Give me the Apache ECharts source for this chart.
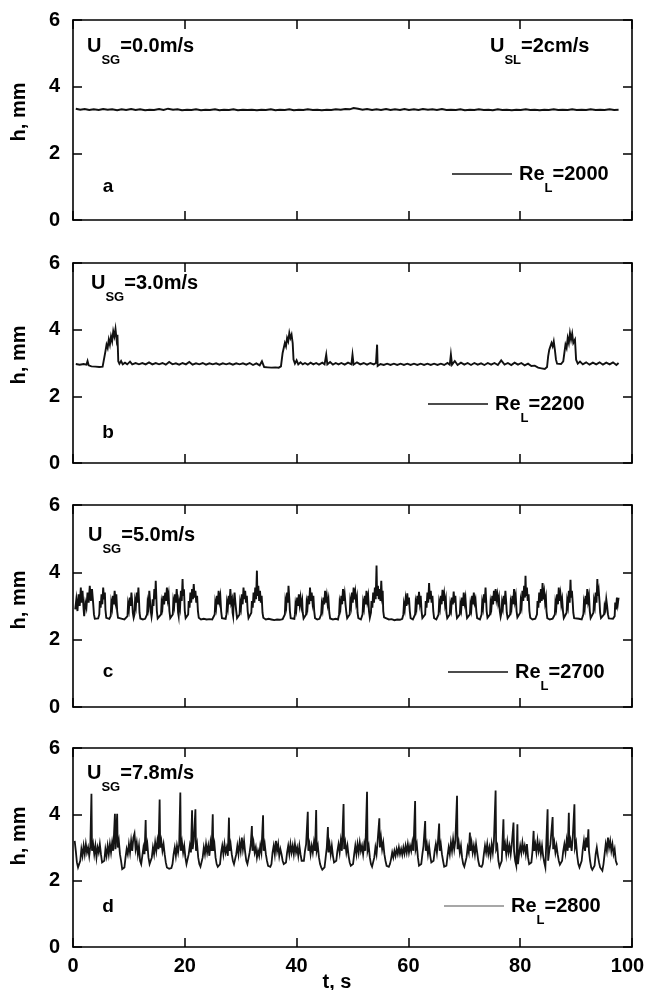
<!DOCTYPE html>
<html>
<head>
<meta charset="utf-8">
<script src="https://cdn.jsdelivr.net/npm/echarts@6/dist/echarts.min.js"></script>
<style>
html,body{margin:0;padding:0;background:#fff;}
#chart{width:645px;height:990px;}
</style>
</head>
<body>
<div id="chart"></div>
<script>
// ---------- data ----------
const xTicks = [0, 20, 40, 60, 80, 100];
const yTicks = [0, 2, 4, 6];
const panelLetters = ['a', 'b', 'c', 'd'];
const usgLabels = ['0.0m/s', '3.0m/s', '5.0m/s', '7.8m/s'];
const uslLabel = '2cm/s';
const reynolds = [2000, 2200, 2700, 2800];

const seriesA = [[0.5,3.34],[1.3,3.31],[2.1,3.33],[2.9,3.30],[3.7,3.32],[4.6,3.30],[5.4,3.33],[6.2,3.31],[7.0,3.32],[7.9,3.29],[8.7,3.32],[9.5,3.30],[10.4,3.33],[11.2,3.30],[12.0,3.32],[12.9,3.29],[13.7,3.31],[14.5,3.30],[15.4,3.33],[16.2,3.30],[17.0,3.34],[17.9,3.31],[18.7,3.32],[19.5,3.29],[20.4,3.31],[21.2,3.30],[22.0,3.32],[22.9,3.29],[23.7,3.31],[24.5,3.30],[25.4,3.32],[26.2,3.29],[27.0,3.31],[27.9,3.30],[28.7,3.32],[29.5,3.29],[30.4,3.31],[31.2,3.30],[32.0,3.31],[32.9,3.29],[33.7,3.31],[34.5,3.30],[35.4,3.32],[36.2,3.29],[37.0,3.31],[37.9,3.30],[38.7,3.32],[39.5,3.29],[40.4,3.31],[41.2,3.30],[42.0,3.32],[42.9,3.30],[43.7,3.31],[44.5,3.29],[45.4,3.31],[46.2,3.30],[47.0,3.32],[47.9,3.31],[48.7,3.33],[49.5,3.32],[50.2,3.36],[51.0,3.34],[51.8,3.31],[52.6,3.33],[53.5,3.30],[54.3,3.32],[55.1,3.30],[56.0,3.33],[56.8,3.30],[57.6,3.32],[58.5,3.30],[59.3,3.33],[60.1,3.30],[61.0,3.32],[61.8,3.30],[62.6,3.33],[63.5,3.31],[64.3,3.32],[65.1,3.30],[66.0,3.33],[66.8,3.30],[67.6,3.31],[68.5,3.30],[69.3,3.32],[70.1,3.29],[71.0,3.31],[71.8,3.30],[72.6,3.32],[73.5,3.30],[74.3,3.31],[75.1,3.29],[76.0,3.32],[76.8,3.30],[77.6,3.31],[78.5,3.29],[79.3,3.31],[80.1,3.30],[81.0,3.32],[81.8,3.30],[82.6,3.31],[83.5,3.29],[84.3,3.31],[85.1,3.30],[86.0,3.32],[86.8,3.30],[87.6,3.31],[88.5,3.30],[89.3,3.32],[90.1,3.30],[91.0,3.31],[91.8,3.30],[92.6,3.32],[93.5,3.30],[94.3,3.31],[95.1,3.30],[96.0,3.32],[96.8,3.30],[97.6,3.31]];

const seriesB = [[0.5,2.97],[1.2,2.95],[1.9,2.97],[2.4,2.95],[2.6,3.06],[2.8,2.93],[3.3,2.90],[4.0,2.89],[4.7,2.88],[5.3,2.89],[5.6,2.92],[5.8,3.35],[6.0,3.55],[6.2,3.45],[6.4,3.70],[6.6,3.55],[6.8,3.80],[7.0,3.65],[7.2,3.95],[7.4,3.80],[7.6,4.02],[7.8,3.70],[7.95,3.85],[8.1,3.05],[8.3,2.98],[8.6,3.06],[8.9,2.96],[9.3,3.01],[9.7,2.96],[10.2,3.04],[10.6,2.96],[11.2,3.00],[11.8,2.96],[12.4,3.00],[13.0,2.96],[13.6,3.02],[14.2,2.96],[14.8,3.00],[15.4,2.96],[16.0,3.00],[16.6,2.95],[17.2,3.03],[17.8,2.96],[18.4,2.99],[19.0,2.95],[19.6,3.00],[20.2,2.96],[20.8,3.03],[21.4,2.95],[22.0,2.99],[22.6,2.96],[23.2,3.00],[23.8,2.95],[24.4,2.99],[25.0,2.96],[25.6,2.99],[26.2,2.95],[26.8,2.99],[27.4,2.96],[28.0,2.99],[28.6,2.95],[29.2,2.99],[29.8,2.96],[30.4,2.99],[31.0,2.95],[31.6,3.00],[32.2,2.94],[32.8,2.99],[33.4,2.93],[33.8,3.05],[34.2,2.88],[34.8,2.87],[35.5,2.86],[36.2,2.87],[36.8,2.86],[37.2,2.90],[37.5,3.30],[37.7,3.45],[37.9,3.60],[38.1,3.50],[38.3,3.75],[38.5,3.65],[38.7,3.90],[38.9,3.75],[39.1,3.85],[39.3,3.60],[39.45,3.10],[39.7,2.98],[40.0,3.08],[40.3,2.96],[40.7,3.02],[41.1,2.96],[41.5,3.00],[42.0,2.95],[42.5,3.01],[43.0,2.96],[43.5,3.00],[44.0,2.95],[44.6,3.01],[45.0,2.96],[45.3,3.25],[45.5,2.96],[46.0,3.03],[46.5,2.95],[47.0,3.00],[47.5,2.96],[48.0,3.00],[48.6,2.95],[49.2,3.01],[49.8,2.96],[50.0,3.25],[50.2,2.95],[50.8,3.02],[51.4,2.96],[52.0,3.00],[52.6,2.95],[53.2,3.00],[53.8,2.96],[54.2,3.00],[54.4,3.55],[54.5,2.91],[55.0,2.97],[55.6,2.94],[56.2,2.98],[56.8,2.94],[57.4,2.98],[58.0,2.94],[58.6,2.98],[59.2,2.94],[59.8,2.98],[60.4,2.94],[61.0,2.98],[61.6,2.94],[62.2,2.98],[62.8,2.94],[63.4,2.98],[64.0,2.94],[64.6,2.98],[65.2,2.94],[65.8,2.98],[66.4,2.94],[67.0,3.00],[67.4,2.95],[67.6,3.25],[67.8,2.95],[68.3,3.06],[68.8,2.94],[69.4,3.01],[70.0,2.95],[70.6,3.00],[71.2,2.94],[71.8,3.00],[72.4,2.95],[73.0,2.99],[73.6,2.94],[74.2,3.00],[74.8,2.95],[75.4,3.00],[76.0,2.94],[76.6,3.08],[77.2,2.95],[77.8,3.00],[78.4,2.94],[79.0,3.01],[79.6,2.95],[80.2,3.00],[80.8,2.93],[81.4,2.98],[82.0,2.91],[82.6,2.92],[83.2,2.86],[83.8,2.84],[84.4,2.82],[84.8,2.88],[85.0,3.20],[85.2,3.40],[85.4,3.35],[85.6,3.60],[85.8,3.50],[86.0,3.65],[86.2,3.40],[86.4,3.10],[86.6,2.98],[86.9,2.95],[87.3,2.97],[87.7,3.05],[87.9,3.30],[88.1,3.55],[88.3,3.45],[88.5,3.75],[88.7,3.60],[88.9,3.90],[89.1,3.70],[89.3,3.88],[89.5,3.60],[89.8,3.70],[90.0,3.10],[90.3,2.98],[90.7,3.04],[91.2,2.96],[91.8,3.02],[92.4,2.95],[93.0,3.01],[93.6,2.96],[94.2,3.02],[94.8,2.95],[95.4,3.01],[96.0,2.96],[96.6,3.02],[97.2,2.94],[97.6,3.00]];

const seriesC = [[0.4,2.9],[0.6,3.2],[0.8,2.85],[1.0,3.35],[1.2,3.0],[1.4,3.55],[1.5,3.1],[1.7,3.45],[1.9,2.9],[2.0,2.7],[2.2,3.1],[2.4,2.95],[2.6,3.4],[2.8,3.1],[3.0,3.6],[3.2,3.15],[3.4,3.5],[3.6,3.1],[3.75,2.75],[3.9,2.62],[4.2,2.6],[4.5,2.63],
[4.7,2.75],[4.8,3.15],[4.95,2.95],[5.1,3.35],[5.25,3.05],[5.4,3.55],[5.55,3.2],[5.7,3.4],[5.8,2.9],[5.95,2.65],[6.2,2.6],[6.5,2.62],
[6.75,2.7],[6.85,3.1],[7.0,2.95],[7.15,3.3],[7.3,3.05],[7.45,3.45],[7.6,3.15],[7.75,3.35],[7.9,2.85],[8.05,2.65],[8.4,2.6],[8.8,2.62],[9.2,2.6],[9.5,2.63],
[9.75,2.7],[9.85,3.05],[10.0,2.9],[10.15,3.25],[10.3,3.0],[10.45,3.4],[10.6,3.1],[10.7,2.8],[10.85,2.65],
[11.0,2.75],[11.1,3.15],[11.25,3.0],[11.4,3.4],[11.55,3.1],[11.7,3.55],[11.8,3.2],[11.9,2.8],[12.05,2.63],[12.5,2.6],[12.9,2.62],
[13.25,2.75],[13.35,3.1],[13.5,2.95],[13.65,3.45],[13.8,3.1],[13.95,2.8],[14.05,2.68],
[14.15,2.8],[14.25,3.2],[14.4,3.0],[14.55,3.5],[14.7,3.2],[14.8,3.75],[14.9,3.3],[15.0,2.85],[15.15,2.63],[15.5,2.6],
[15.75,2.75],[15.85,3.1],[16.0,2.95],[16.15,3.3],[16.3,3.05],[16.5,3.4],[16.65,3.15],[16.8,3.55],[16.95,3.2],[17.1,3.35],[17.25,2.85],[17.4,2.64],
[17.85,2.75],[17.95,3.15],[18.1,3.0],[18.25,3.35],[18.4,3.1],[18.55,3.5],[18.7,3.15],[18.8,2.8],[18.9,2.7],
[19.0,3.1],[19.15,2.95],[19.3,3.45],[19.45,3.15],[19.6,3.8],[19.7,3.3],[19.85,3.5],[20.0,2.85],[20.15,2.64],[20.4,2.6],
[20.6,2.75],[20.7,3.15],[20.85,2.95],[21.0,3.4],[21.15,3.1],[21.3,3.5],[21.45,3.2],[21.6,3.65],[21.75,3.25],[21.9,3.45],[22.05,3.1],[22.2,3.3],[22.35,2.85],[22.5,2.65],
[22.9,2.6],[23.4,2.62],[23.9,2.6],[24.4,2.61],[24.9,2.6],[25.2,2.62],
[25.35,2.75],[25.45,3.1],[25.6,2.95],[25.75,3.3],[25.9,3.05],[26.05,3.45],[26.2,3.15],[26.35,3.3],[26.5,2.85],[26.65,2.64],[27.0,2.6],[27.3,2.62],
[27.45,2.75],[27.55,3.1],[27.7,2.95],[27.85,3.3],[28.0,3.05],[28.15,3.5],[28.3,3.1],[28.45,3.2],[28.55,2.8],[28.65,2.7],[28.75,3.1],[28.9,3.4],[29.05,3.1],[29.2,2.85],[29.35,2.64],[29.6,2.62],
[29.8,2.75],[29.9,3.1],[30.05,2.95],[30.2,3.35],[30.35,3.05],[30.5,3.55],[30.65,3.2],[30.8,3.45],[30.95,3.1],[31.1,3.3],[31.25,2.85],[31.4,2.64],[31.7,2.62],
[31.9,2.8],[32.0,3.15],[32.15,2.95],[32.3,3.4],[32.45,3.1],[32.6,3.55],[32.75,3.2],[32.9,4.05],[33.0,3.3],[33.15,3.6],[33.3,3.15],[33.45,3.45],[33.6,3.1],[33.75,3.3],[33.9,2.8],[34.05,2.65],
[34.5,2.6],[35.0,2.62],[35.5,2.6],[36.0,2.58],[36.5,2.6],[37.0,2.59],[37.5,2.61],[37.8,2.6],
[37.9,2.75],[38.0,3.15],[38.15,3.0],[38.3,3.4],[38.45,3.1],[38.55,3.6],[38.7,3.2],[38.8,2.85],[38.95,2.64],[39.3,2.6],[39.6,2.62],
[39.7,2.75],[39.8,3.05],[39.95,2.9],[40.1,3.25],[40.25,3.0],[40.4,3.35],[40.55,3.05],[40.7,3.25],[40.85,3.0],[41.0,3.15],[41.1,2.8],[41.25,2.63],[41.5,2.6],
[41.7,2.75],[41.8,3.1],[41.95,2.95],[42.1,3.3],[42.25,3.05],[42.4,3.55],[42.55,3.15],[42.7,3.4],[42.85,3.1],[43.0,3.3],[43.15,2.85],[43.3,2.64],[43.7,2.6],[44.1,2.62],
[44.4,2.75],[44.5,3.05],[44.65,2.9],[44.8,3.25],[44.95,3.05],[45.1,3.45],[45.25,3.1],[45.4,3.3],[45.55,3.05],[45.7,3.2],[45.85,2.8],[46.0,2.63],[46.5,2.6],[47.0,2.62],[47.4,2.6],
[47.6,2.75],[47.7,3.1],[47.85,2.95],[48.0,3.3],[48.15,3.05],[48.3,3.5],[48.45,3.15],[48.6,3.35],[48.75,3.05],[48.9,2.8],[49.05,2.64],[49.3,2.62],
[49.5,2.75],[49.6,3.15],[49.75,3.0],[49.9,3.4],[50.05,3.1],[50.2,3.55],[50.35,3.2],[50.5,3.4],[50.65,3.1],[50.8,3.25],[50.9,2.8],[51.05,2.64],[51.5,2.6],
[51.8,2.75],[51.9,3.1],[52.05,2.95],[52.2,3.3],[52.35,3.05],[52.5,3.45],[52.65,3.15],[52.8,3.3],[52.95,2.85],[53.1,2.65],
[53.3,2.8],[53.4,3.15],[53.55,2.95],[53.7,3.4],[53.85,3.1],[54.0,3.55],[54.15,3.2],[54.3,4.2],[54.4,3.3],[54.55,3.6],[54.7,3.2],[54.85,3.5],[55.0,3.15],[55.15,3.75],[55.25,3.3],[55.4,3.45],[55.5,2.85],[55.65,2.66],
[56.0,2.62],[56.5,2.6],[57.0,2.61],[57.5,2.58],[58.0,2.6],[58.5,2.59],[58.9,2.62],
[59.1,2.75],[59.2,3.05],[59.35,2.9],[59.5,3.2],[59.65,3.0],[59.8,3.38],[59.95,3.05],[60.1,3.25],[60.25,2.85],[60.4,2.64],[60.8,2.6],
[61.2,2.75],[61.3,3.1],[61.45,2.95],[61.6,3.3],[61.75,3.05],[61.9,3.42],[62.05,3.1],[62.2,3.3],[62.35,2.85],[62.5,2.64],[62.8,2.62],
[63.0,2.75],[63.1,3.15],[63.25,2.95],[63.4,3.4],[63.55,3.1],[63.7,3.68],[63.85,3.2],[64.0,3.45],[64.15,3.1],[64.3,3.3],[64.45,2.85],[64.6,2.64],[65.0,2.6],
[65.4,2.75],[65.5,3.1],[65.65,2.95],[65.8,3.3],[65.95,3.05],[66.1,3.48],[66.25,3.15],[66.4,3.35],[66.55,3.05],[66.7,3.2],[66.8,2.8],[66.95,2.64],[67.2,2.6],
[67.4,2.75],[67.5,3.05],[67.65,2.9],[67.8,3.25],[67.95,3.05],[68.1,3.43],[68.25,3.1],[68.4,3.3],[68.55,2.85],[68.7,2.64],[69.0,2.61],
[69.2,2.75],[69.3,3.05],[69.45,2.9],[69.6,3.25],[69.75,3.0],[69.9,3.4],[70.05,3.1],[70.2,3.25],[70.35,2.85],[70.5,2.64],[70.8,2.6],
[71.0,2.75],[71.1,3.05],[71.25,2.9],[71.4,3.3],[71.55,3.05],[71.7,3.4],[71.85,3.1],[72.0,3.2],[72.15,2.85],[72.3,2.64],[72.8,2.6],
[73.1,2.75],[73.2,3.1],[73.35,2.95],[73.5,3.35],[73.65,3.1],[73.8,3.55],[73.9,3.2],[74.0,2.85],[74.15,2.65],[74.4,2.62],
[74.6,2.75],[74.7,3.1],[74.85,2.95],[75.0,3.3],[75.15,3.05],[75.3,3.45],[75.45,3.15],[75.6,3.5],[75.75,3.2],[75.9,3.35],[76.05,3.1],[76.2,3.25],[76.35,2.85],[76.5,2.68],
[76.65,2.8],[76.75,3.1],[76.9,2.95],[77.05,3.3],[77.2,3.05],[77.35,3.45],[77.5,3.1],[77.6,2.8],[77.75,2.64],[78.0,2.6],
[78.2,2.75],[78.3,3.1],[78.45,2.95],[78.6,3.3],[78.75,3.05],[78.9,3.5],[79.05,3.15],[79.2,3.3],[79.35,2.85],[79.5,2.66],[79.8,2.62],
[80.0,2.8],[80.1,3.15],[80.25,3.0],[80.4,3.45],[80.55,3.15],[80.7,3.6],[80.85,3.25],[80.95,3.9],[81.05,3.3],[81.2,3.55],[81.35,3.15],[81.5,3.35],[81.65,2.85],[81.8,2.65],[82.2,2.6],[82.7,2.62],
[83.0,2.75],[83.1,3.15],[83.25,2.95],[83.4,3.4],[83.55,3.1],[83.7,3.5],[83.85,3.15],[84.0,3.68],[84.15,3.2],[84.3,3.4],[84.45,3.1],[84.6,3.25],[84.7,2.85],[84.85,2.64],[85.3,2.6],[85.8,2.62],
[86.2,2.75],[86.3,3.1],[86.45,2.95],[86.6,3.35],[86.75,3.05],[86.9,3.55],[87.05,3.15],[87.2,3.35],[87.35,3.05],[87.5,3.2],[87.65,2.85],[87.8,2.64],[88.1,2.62],
[88.3,2.8],[88.4,3.15],[88.55,3.0],[88.7,3.45],[88.85,3.1],[89.0,3.78],[89.1,3.25],[89.25,3.45],[89.4,3.1],[89.5,2.8],[89.65,2.64],[90.0,2.6],[90.5,2.62],[91.0,2.6],
[91.3,2.75],[91.4,3.1],[91.55,2.95],[91.7,3.3],[91.85,3.05],[92.0,3.5],[92.15,3.15],[92.3,3.3],[92.45,2.85],[92.6,2.64],[92.9,2.62],
[93.1,2.8],[93.2,3.15],[93.35,3.0],[93.5,3.4],[93.65,3.1],[93.8,3.8],[93.9,3.3],[94.05,3.45],[94.2,3.1],[94.3,2.8],[94.45,2.64],[94.8,2.6],
[95.0,2.75],[95.1,3.0],[95.25,2.9],[95.4,3.2],[95.55,3.0],[95.7,2.75],[95.85,2.63],[96.2,2.6],[96.6,2.62],
[96.9,2.7],[97.0,3.1],[97.15,2.9],[97.3,3.25],[97.45,3.05],[97.6,3.25]];

const seriesD = [[0.3,3.2],[0.5,2.9],[0.7,2.55],[0.9,2.4],[1.1,2.42],[1.3,2.6],[1.5,2.95],[1.7,2.75],[1.9,3.05],[2.1,2.8],[2.3,3.1],[2.5,2.85],[2.7,3.0],[2.9,2.75],[3.1,3.05],[3.3,4.62],[3.4,2.9],[3.6,3.1],[3.8,2.8],[4.0,3.05],[4.2,2.7],[4.4,3.0],[4.6,2.85],[4.8,3.1],[5.0,2.8],[5.2,2.55],[5.4,2.5],[5.6,2.6],[5.8,2.95],[6.0,2.75],[6.2,3.05],[6.4,2.8],[6.6,3.1],[6.8,2.85],[7.0,3.15],[7.2,2.9],[7.5,4.02],[7.6,2.95],[7.9,4.02],[8.0,3.0],[8.2,3.2],[8.4,2.8],[8.6,2.6],[8.8,2.35],[9.0,2.3],[9.2,2.4],[9.4,2.7],[9.6,2.95],[9.8,2.8],[10.0,3.1],[10.2,2.85],[10.4,3.2],[10.6,2.9],[10.8,3.3],[11.0,3.42],[11.2,2.95],[11.4,3.15],[11.6,2.8],[11.8,3.05],[12.0,2.6],[12.2,2.5],[12.4,2.75],[12.6,3.0],[12.8,2.8],[13.0,3.83],[13.1,2.9],[13.3,3.1],[13.5,2.7],[13.7,2.5],[13.9,2.45],[14.1,2.7],[14.3,3.0],[14.5,2.8],[14.7,3.15],[14.9,2.9],[15.1,3.2],[15.3,2.95],[15.5,4.45],[15.6,3.0],[15.8,3.2],[16.0,2.9],[16.2,3.1],[16.4,2.8],[16.6,2.55],[16.8,2.4],[17.0,2.38],[17.2,2.36],[17.4,2.4],[17.6,2.38],[17.8,2.5],[18.0,2.8],[18.2,3.0],[18.4,2.75],[18.6,3.05],[18.8,2.85],[19.0,3.1],[19.2,4.66],[19.3,2.9],[19.5,3.15],[19.7,2.85],[19.9,3.05],[20.1,2.7],[20.3,2.5],[20.5,2.45],[20.7,2.8],[20.9,3.05],[21.1,2.85],[21.3,4.12],[21.4,2.95],[21.6,3.2],[21.9,4.15],[22.0,2.9],[22.2,3.1],[22.4,2.7],[22.6,2.5],[22.8,2.42],[23.0,2.45],[23.2,2.7],[23.4,3.0],[23.6,2.8],[23.8,3.1],[24.0,2.85],[24.2,3.05],[24.4,2.75],[24.6,3.15],[24.8,2.9],[25.0,4.0],[25.1,2.9],[25.3,3.1],[25.5,2.7],[25.7,2.5],[25.9,2.42],[26.1,2.4],[26.3,2.5],[26.5,2.85],[26.7,3.05],[26.9,2.8],[27.1,3.1],[27.3,2.85],[27.5,3.0],[27.7,2.75],[27.9,3.9],[28.0,2.9],[28.2,3.1],[28.4,2.8],[28.6,2.6],[28.8,2.5],[29.0,2.55],[29.2,2.8],[29.4,3.05],[29.6,2.8],[29.8,3.15],[30.0,2.9],[30.2,3.3],[30.4,2.95],[30.6,3.2],[30.8,2.85],[31.0,2.6],[31.2,2.5],[31.4,2.55],[31.6,2.85],[31.8,3.1],[32.0,3.65],[32.1,2.9],[32.3,3.15],[32.5,2.85],[32.7,3.0],[32.9,2.7],[33.1,2.9],[33.3,2.75],[33.5,3.05],[33.7,2.85],[34.0,3.97],[34.1,2.9],[34.3,3.1],[34.5,2.8],[34.7,2.6],[34.9,2.45],[35.1,2.4],[35.3,2.42],[35.5,2.5],[35.7,2.85],[35.9,3.05],[36.1,2.8],[36.3,3.2],[36.5,2.9],[36.7,3.1],[36.9,2.75],[37.1,2.95],[37.3,2.8],[37.5,2.6],[37.7,2.5],[37.9,2.48],[38.1,2.55],[38.3,2.85],[38.5,3.05],[38.7,2.8],[38.9,3.1],[39.1,2.85],[39.3,3.05],[39.5,2.8],[39.7,3.1],[39.9,2.85],[40.1,3.0],[40.3,2.75],[40.5,3.05],[40.7,2.8],[40.9,2.6],[41.1,2.55],[41.3,2.6],[41.5,2.9],[41.7,3.1],[42.0,4.08],[42.1,2.9],[42.3,3.1],[42.5,2.8],[42.7,3.05],[42.9,2.85],[43.1,3.15],[43.3,2.9],[43.5,4.13],[43.6,2.9],[43.8,3.05],[44.0,2.7],[44.2,2.5],[44.4,2.4],[44.6,2.33],[44.8,2.3],[45.0,2.4],[45.2,2.7],[45.4,3.0],[45.6,3.62],[45.7,2.85],[45.9,3.1],[46.1,2.8],[46.3,3.05],[46.5,2.75],[46.7,2.55],[46.9,2.5],[47.1,2.6],[47.3,2.9],[47.5,3.1],[47.7,2.85],[47.9,3.2],[48.1,2.9],[48.4,4.31],[48.5,2.95],[48.7,3.15],[48.9,2.85],[49.1,3.05],[49.3,2.75],[49.5,2.55],[49.7,2.45],[49.9,2.42],[50.1,2.5],[50.3,2.8],[50.5,3.05],[50.7,2.8],[50.9,3.1],[51.1,2.85],[51.3,3.15],[51.5,2.9],[51.7,3.05],[51.9,2.8],[52.1,3.1],[52.3,2.9],[52.6,4.68],[52.7,2.9],[52.9,3.05],[53.1,2.7],[53.3,2.5],[53.5,2.42],[53.7,2.45],[53.9,2.7],[54.1,3.0],[54.3,2.8],[54.5,3.2],[54.8,3.88],[54.9,3.0],[55.1,3.3],[55.3,2.95],[55.5,3.15],[55.7,2.8],[55.9,2.6],[56.1,2.45],[56.3,2.4],[56.5,2.42],[56.7,2.5],[56.9,2.65],[57.1,2.85],[57.3,2.7],[57.5,2.9],[57.7,2.75],[57.9,2.95],[58.1,2.8],[58.3,3.0],[58.5,2.8],[58.7,2.95],[58.9,2.78],[59.1,3.0],[59.3,2.82],[59.5,3.05],[59.7,2.85],[59.9,3.1],[60.1,2.85],[60.3,3.05],[60.5,2.9],[60.7,3.15],[60.9,2.9],[61.2,4.4],[61.3,2.95],[61.5,3.1],[61.7,2.7],[61.9,2.45],[62.1,2.4],[62.3,2.5],[62.5,2.8],[62.7,3.05],[63.0,3.8],[63.1,2.9],[63.3,3.1],[63.5,2.8],[63.7,3.05],[63.9,2.75],[64.1,2.55],[64.3,2.5],[64.5,2.6],[64.7,2.9],[64.9,3.1],[65.1,2.85],[65.3,3.2],[65.5,3.72],[65.6,2.9],[65.8,3.1],[66.0,2.8],[66.2,2.6],[66.4,2.42],[66.6,2.38],[66.8,2.45],[67.0,2.75],[67.2,3.0],[67.4,2.8],[67.6,3.15],[67.8,2.9],[68.0,3.25],[68.2,2.95],[68.4,3.2],[68.7,4.56],[68.8,2.95],[69.0,3.15],[69.2,2.85],[69.4,3.05],[69.6,2.7],[69.8,2.5],[70.0,2.42],[70.2,2.45],[70.4,2.7],[70.6,3.0],[70.8,2.85],[71.0,3.45],[71.1,2.9],[71.3,3.15],[71.5,2.85],[71.7,3.05],[71.9,2.8],[72.1,3.1],[72.3,2.85],[72.5,2.6],[72.7,2.45],[72.9,2.4],[73.1,2.42],[73.3,2.5],[73.5,2.8],[73.7,3.05],[73.9,2.85],[74.1,3.1],[74.3,2.8],[74.5,3.0],[74.7,2.75],[74.9,3.1],[75.1,2.85],[75.3,3.2],[75.6,4.72],[75.7,2.95],[75.9,3.05],[76.1,2.6],[76.3,2.42],[76.5,2.4],[76.7,2.6],[77.0,3.85],[77.1,2.9],[77.3,3.1],[77.5,2.8],[77.7,3.15],[77.9,2.85],[78.1,3.05],[78.3,2.8],[78.5,3.1],[78.8,3.75],[78.9,2.9],[79.1,2.6],[79.3,2.45],[79.5,3.7],[79.6,2.5],[79.8,2.8],[80.0,3.05],[80.2,2.85],[80.4,3.15],[80.6,2.9],[80.8,3.05],[81.0,2.8],[81.2,3.1],[81.4,2.7],[81.6,2.5],[81.8,2.45],[82.0,2.55],[82.2,2.9],[82.4,3.5],[82.5,2.9],[82.7,3.1],[82.9,2.85],[83.1,3.2],[83.3,2.9],[83.5,3.1],[83.7,2.8],[83.9,3.05],[84.1,2.75],[84.3,2.55],[84.5,2.4],[84.7,2.38],[84.9,4.15],[85.0,2.6],[85.2,2.9],[85.4,3.1],[85.8,3.92],[85.9,2.95],[86.1,3.15],[86.3,2.85],[86.5,3.05],[86.7,2.8],[86.9,2.6],[87.1,2.48],[87.3,2.45],[87.5,2.6],[87.7,2.9],[87.9,3.1],[88.1,2.85],[88.3,3.2],[88.5,2.9],[88.7,4.05],[88.8,3.0],[89.0,3.2],[89.2,2.9],[89.4,3.3],[89.7,4.3],[89.8,3.0],[90.0,3.15],[90.2,2.75],[90.4,2.5],[90.6,2.4],[90.8,2.42],[91.0,2.6],[91.2,2.95],[91.4,3.2],[91.6,2.9],[91.8,3.3],[92.0,3.0],[92.2,3.55],[92.3,2.9],[92.5,2.6],[92.7,2.4],[92.9,2.33],[93.1,2.3],[93.3,2.45],[93.5,2.8],[93.7,3.0],[93.9,2.75],[94.1,2.55],[94.3,2.4],[94.5,2.35],[94.7,2.3],[94.9,2.5],[95.1,2.8],[95.3,3.1],[95.5,2.9],[95.7,3.3],[95.9,3.0],[96.1,3.2],[96.3,2.9],[96.5,3.1],[96.7,2.8],[96.9,2.95],[97.1,2.6],[97.3,2.5],[97.4,2.52]];

const allSeries = [seriesA, seriesB, seriesC, seriesD];

// ---------- layout ----------
const FONT = '"Liberation Sans", Arial, Helvetica, sans-serif';
const panels = [
  {top: 20, height: 200},
  {top: 263, height: 200},
  {top: 505, height: 202},
  {top: 748, height: 199}
];
const plotLeft = 73, plotWidth = 559;
const lineColors = ['#111', '#111', '#111', '#151515'];
const lineWidths = [2.0, 1.9, 1.9, 1.8];
const legendIconColors = ['#111', '#111', '#111', '#8a8a8a'];
const legendPos = [
  {left: 452, cy: 175},
  {left: 428, cy: 405},
  {left: 448, cy: 673},
  {left: 444, cy: 907}
];
const letterPos = [187, 433, 672, 907];
const usgPos = [{x: 87, y: 46}, {x: 91, y: 283}, {x: 88, y: 535}, {x: 87, y: 773}];
const yNameCenters = [112, 355, 600, 836];

const axisLineStyle = {color: '#000', width: 1.6};
const tickStyle = {color: '#000', width: 1.5};
const tickLabelStyle = {fontSize: 20, fontWeight: 'bold', fontFamily: FONT, color: '#000'};

const grid = [], xAxis = [], yAxis = [], series = [], legend = [], graphic = [];
const richMain = {
  u: {fontSize: 20, fontWeight: 'bold', fontFamily: FONT, color: '#000', lineHeight: 22},
  s: {fontSize: 13, fontWeight: 'bold', fontFamily: FONT, color: '#000', lineHeight: 13, padding: [28, 0, 0, 0]}
};
const xMax = xTicks[xTicks.length - 1];

panels.forEach((p, i) => {
  grid.push({left: plotLeft, top: p.top, width: plotWidth, height: p.height, containLabel: false, outerBoundsMode: 'none'});
  const xBase = {
    gridIndex: i, type: 'value', min: xTicks[0], max: xMax, interval: xTicks[1] - xTicks[0],
    axisLine: {show: true, onZero: false, lineStyle: axisLineStyle},
    axisTick: {show: true, inside: true, length: 9, lineStyle: tickStyle},
    splitLine: {show: false}
  };
  xAxis.push(Object.assign({}, xBase, {
    position: 'bottom',
    axisLabel: {
      show: i === 3, margin: 9, hideOverlap: false,
      formatter: v => (v === xMax ? '{m|' + v + '}' : '{n|' + v + '}'),
      rich: {
        n: tickLabelStyle,
        m: Object.assign({}, tickLabelStyle, {padding: [0, 9, 0, 0]})
      }
    }
  }));
  xAxis.push(Object.assign({}, xBase, {position: 'top', axisLabel: {show: false}}));
  const yBase = {
    gridIndex: i, type: 'value', min: yTicks[0], max: yTicks[yTicks.length - 1], interval: yTicks[1] - yTicks[0],
    axisLine: {show: true, onZero: false, lineStyle: axisLineStyle},
    axisTick: {show: true, inside: true, length: 9, lineStyle: tickStyle},
    splitLine: {show: false}
  };
  yAxis.push(Object.assign({}, yBase, {
    position: 'left',
    axisLabel: Object.assign({show: true, margin: 13}, tickLabelStyle)
  }));
  yAxis.push(Object.assign({}, yBase, {position: 'right', axisLabel: {show: false}}));

  const name = 'ReL=' + reynolds[i];
  series.push({
    name: name, type: 'line', xAxisIndex: 2 * i, yAxisIndex: 2 * i,
    data: allSeries[i], showSymbol: false, symbol: 'none', sampling: null,
    lineStyle: {color: lineColors[i], width: lineWidths[i], join: 'miter'}, itemStyle: {color: lineColors[i]},
    animation: false, silent: true
  });
  legend.push({
    data: [{name: name, icon: 'rect', itemStyle: {color: legendIconColors[i]}}],
    left: legendPos[i].left, top: legendPos[i].cy - 21.5, padding: 0,
    itemWidth: 60, itemHeight: 1.6, itemGap: 0, selectedMode: false,
    formatter: () => '{u|Re}{s|L}{u|=' + reynolds[i] + '}',
    textStyle: {rich: richMain, padding: [0, 0, 0, 2]}
  });
  graphic.push({
    type: 'text', x: 108, y: letterPos[i],
    style: {text: panelLetters[i], font: 'bold 19px ' + FONT, fill: '#000', align: 'center', verticalAlign: 'middle'}
  });
  graphic.push({
    type: 'text', x: usgPos[i].x, y: usgPos[i].y,
    style: {text: '{u|U}{s|SG}{u|=' + usgLabels[i] + '}', rich: richMain, align: 'left', verticalAlign: 'middle'}
  });
  graphic.push({
    type: 'text', x: 19, y: yNameCenters[i], rotation: Math.PI / 2,
    style: {text: 'h, mm', font: 'bold 20px ' + FONT, fill: '#000', align: 'center', verticalAlign: 'middle'}
  });
});

graphic.push({
  type: 'text', x: 490, y: 46,
  style: {text: '{u|U}{s|SL}{u|=' + uslLabel + '}', rich: richMain, align: 'left', verticalAlign: 'middle'}
});
graphic.push({
  type: 'text', x: 337, y: 982,
  style: {text: 't, s', font: 'bold 20px ' + FONT, fill: '#000', align: 'center', verticalAlign: 'middle'}
});

const chart = echarts.init(document.getElementById('chart'), null, {renderer: 'canvas'});
chart.setOption({
  animation: false,
  backgroundColor: '#fff',
  grid, xAxis, yAxis, series, legend, graphic
});
</script>
</body>
</html>
